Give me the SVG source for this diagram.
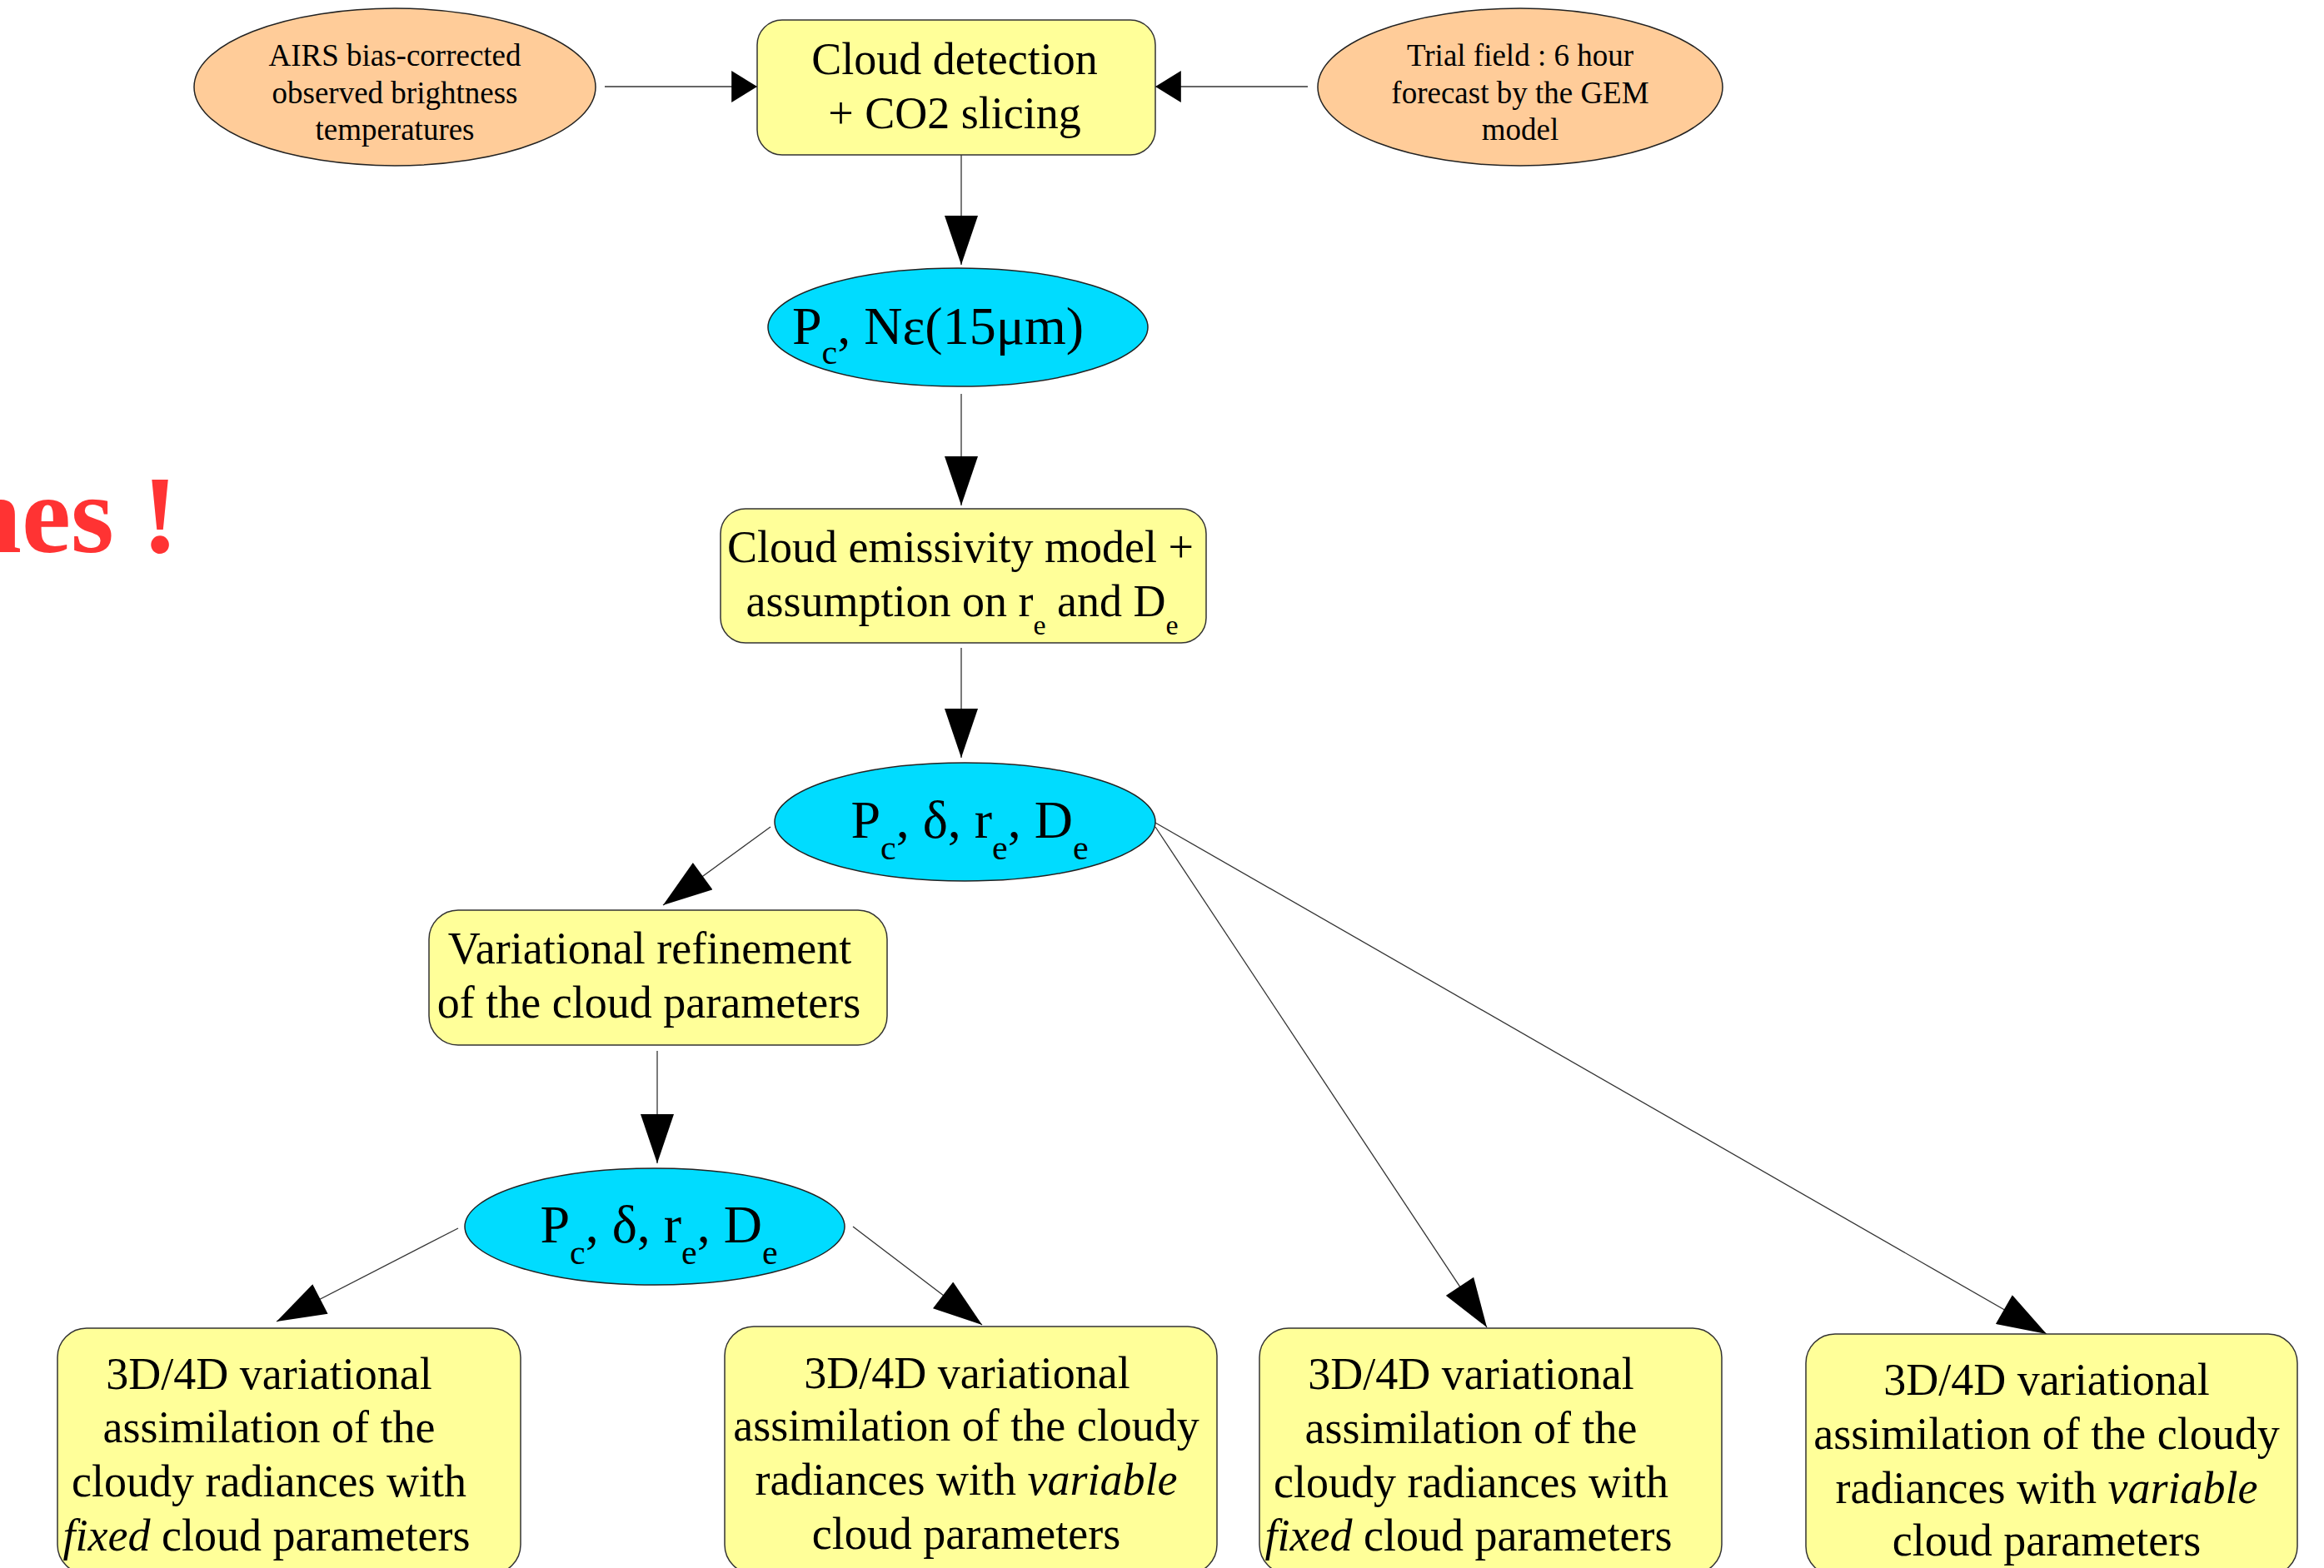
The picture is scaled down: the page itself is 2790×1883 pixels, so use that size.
<svg xmlns="http://www.w3.org/2000/svg" width="2790" height="1883" viewBox="0 0 2790 1883">
<defs>
<style>
.t{font-family:"Liberation Serif","Times New Roman",serif;fill:#000;text-anchor:middle}
.s37{font-size:37px}
.s54{font-size:54px}
.s64{font-size:64px}
.peach{fill:#ffcc99;stroke:#222;stroke-width:1.5}
.yel{fill:#ffff99;stroke:#333;stroke-width:1.5}
.cyan{fill:#00dcff;stroke:#222;stroke-width:1.5}
.c{fill:none;stroke:#333;stroke-width:1.3}
.big{marker-end:url(#ab)}
.small{marker-end:url(#as)}
.red{font-family:"Liberation Serif","Times New Roman",serif;font-weight:bold;font-size:133px;fill:#ff3333}
</style>
<marker id="ab" markerUnits="userSpaceOnUse" markerWidth="60" markerHeight="40" viewBox="0 0 56 38" refX="56" refY="19" orient="auto">
<path d="M0,0 L56,19 L0,38 Z" fill="#000"/>
</marker>
<marker id="as" markerUnits="userSpaceOnUse" markerWidth="32" markerHeight="38" viewBox="0 0 30 37" refX="30" refY="18.5" orient="auto">
<path d="M0,0 L30,18.5 L0,37 Z" fill="#000"/>
</marker>
</defs>
<rect width="2790" height="1883" fill="#fff"/>

<text class="red" x="-48" y="663">nes !</text>

<g id="connectors">
<path class="c small" d="M726,104 L909,104"/>
<path class="c small" d="M1570,104 L1387,104"/>
<path class="c big" d="M1154,186 L1154,318"/>
<path class="c big" d="M1154,473 L1154,607"/>
<path class="c big" d="M1154,778 L1154,910"/>
<path class="c big" d="M925,993 L796,1087"/>
<path class="c big" d="M1387,993 L1785,1594"/>
<path class="c big" d="M1387,988 L2457,1602"/>
<path class="c big" d="M789,1262 L789,1397"/>
<path class="c big" d="M550,1475 L332,1587"/>
<path class="c big" d="M1024,1473 L1179,1591"/>
</g>

<g id="airs">
<ellipse class="peach" cx="474" cy="104.5" rx="241" ry="94.5"/>
<text class="t s37" x="474" y="79">AIRS bias-corrected</text>
<text class="t s37" x="474" y="124">observed brightness</text>
<text class="t s37" x="474" y="168">temperatures</text>
</g>

<g id="trial">
<ellipse class="peach" cx="1825" cy="104.5" rx="243" ry="94.5"/>
<text class="t s37" x="1825" y="79">Trial field : 6 hour</text>
<text class="t s37" x="1825" y="124">forecast by the GEM</text>
<text class="t s37" x="1825" y="168">model</text>
</g>

<g id="cloud-detection">
<rect class="yel" x="909" y="24" width="478" height="162" rx="30" ry="30"/>
<text class="t s54" x="1146" y="89">Cloud detection</text>
<text class="t s54" x="1146" y="154">+ CO2 slicing</text>
</g>

<g id="pc-neps">
<ellipse class="cyan" cx="1150" cy="393" rx="228" ry="71"/>
<text class="t s64" x="1126" y="413">P<tspan font-size="42" dy="24">c</tspan><tspan dy="-24">, Nε(15μm)</tspan></text>
</g>

<g id="emissivity">
<rect class="yel" x="865" y="611" width="583" height="161" rx="30" ry="30"/>
<text class="t s54" x="1153" y="675">Cloud emissivity model +</text>
<text class="t s54" x="1155" y="740">assumption on r<tspan font-size="34" dy="22">e</tspan><tspan dy="-22"> and D</tspan><tspan font-size="34" dy="22">e</tspan></text>
</g>

<g id="params1">
<ellipse class="cyan" cx="1158.5" cy="987" rx="228.5" ry="71"/>
<text class="t s64" x="1164" y="1006">P<tspan font-size="42" dy="26">c</tspan><tspan dy="-26">, δ, r</tspan><tspan font-size="42" dy="26">e</tspan><tspan dy="-26">, D</tspan><tspan font-size="42" dy="26">e</tspan></text>
</g>

<g id="refinement">
<rect class="yel" x="515" y="1093" width="550" height="162" rx="35" ry="35"/>
<text class="t s54" x="780" y="1157">Variational refinement</text>
<text class="t s54" x="779" y="1222">of the cloud parameters</text>
</g>

<g id="params2">
<ellipse class="cyan" cx="786" cy="1473" rx="228" ry="70"/>
<text class="t s64" x="791" y="1492">P<tspan font-size="42" dy="26">c</tspan><tspan dy="-26">, δ, r</tspan><tspan font-size="42" dy="26">e</tspan><tspan dy="-26">, D</tspan><tspan font-size="42" dy="26">e</tspan></text>
</g>

<g id="assim-a">
<rect class="yel" x="69" y="1595" width="556" height="295" rx="35" ry="35"/>
<text class="t s54" x="323" y="1668">3D/4D variational</text>
<text class="t s54" x="323" y="1732">assimilation of the</text>
<text class="t s54" x="323" y="1797">cloudy radiances with</text>
<text class="t s54" x="320" y="1862"><tspan font-style="italic">fixed</tspan> cloud parameters</text>
</g>

<g id="assim-b">
<rect class="yel" x="870" y="1593" width="591" height="297" rx="35" ry="35"/>
<text class="t s54" x="1161" y="1667">3D/4D variational</text>
<text class="t s54" x="1160" y="1730">assimilation of the cloudy</text>
<text class="t s54" x="1160" y="1795">radiances with <tspan font-style="italic">variable</tspan></text>
<text class="t s54" x="1160" y="1860">cloud parameters</text>
</g>

<g id="assim-c">
<rect class="yel" x="1512" y="1595" width="555" height="295" rx="35" ry="35"/>
<text class="t s54" x="1766" y="1668">3D/4D variational</text>
<text class="t s54" x="1766" y="1733">assimilation of the</text>
<text class="t s54" x="1766" y="1798">cloudy radiances with</text>
<text class="t s54" x="1763" y="1862"><tspan font-style="italic">fixed</tspan> cloud parameters</text>
</g>

<g id="assim-d">
<rect class="yel" x="2168" y="1602" width="590" height="290" rx="35" ry="35"/>
<text class="t s54" x="2457" y="1675">3D/4D variational</text>
<text class="t s54" x="2457" y="1740">assimilation of the cloudy</text>
<text class="t s54" x="2457" y="1805">radiances with <tspan font-style="italic">variable</tspan></text>
<text class="t s54" x="2457" y="1868">cloud parameters</text>
</g>
</svg>
